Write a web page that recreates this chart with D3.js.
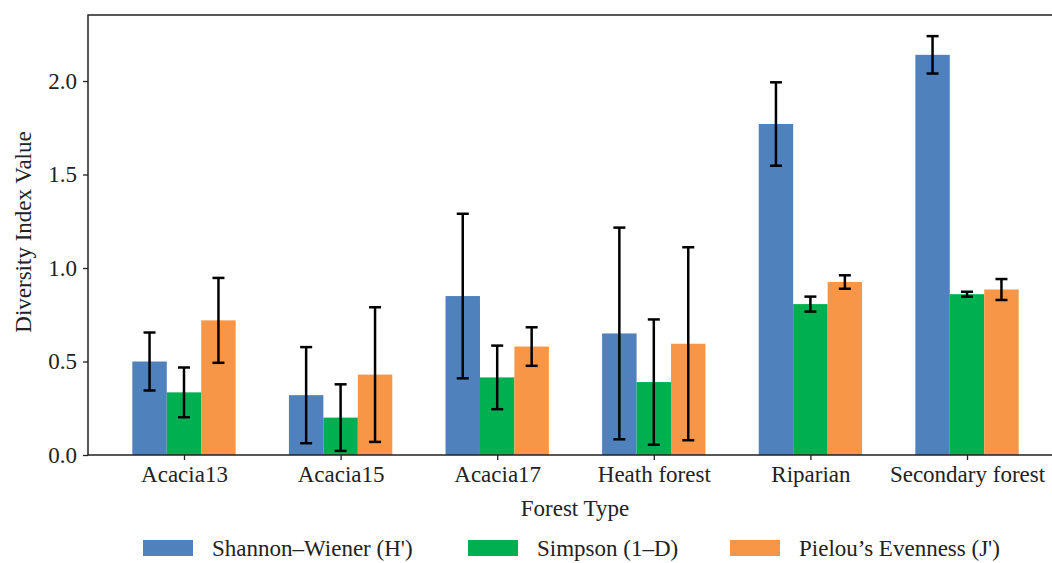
<!DOCTYPE html>
<html>
<head>
<meta charset="utf-8">
<script src="https://cdn.jsdelivr.net/npm/d3@7"></script>
<style>
  body { margin: 0; background: #fff; }
  text { font-family: "Liberation Serif", "DejaVu Serif", serif; fill: #222; }
</style>
</head>
<body>
<div id="chart"></div>
<script>
var categories = ["Acacia13", "Acacia15", "Acacia17", "Heath forest", "Riparian", "Secondary forest"];
var seriesNames = ["Shannon\u2013Wiener (H')", "Simpson (1\u2013D)", "Pielou\u2019s Evenness (J')"];
var seriesColors = ["#4f81bd", "#00b050", "#f79646"];

var shannon = [0.50, 0.32, 0.85, 0.65, 1.77, 2.14];
var shannonErr = [0.155, 0.257, 0.44, 0.566, 0.223, 0.10];
var simpson = [0.335, 0.20, 0.415, 0.39, 0.807, 0.86];
var simpsonErr = [0.133, 0.178, 0.17, 0.335, 0.04, 0.013];
var pielou = [0.72, 0.43, 0.58, 0.595, 0.925, 0.885];
var pielouErr = [0.227, 0.36, 0.103, 0.516, 0.036, 0.056];
var yTicks = [0, 0.5, 1.0, 1.5, 2.0];

var width = 1052,
    height = 563,
    barW = 0.22,
    fontSize = 23;

var series = [shannon, simpson, pielou];
var errors = [shannonErr, simpsonErr, pielouErr];

var svg = d3.select('#chart')
    .append('svg')
    .attr('width', width)
    .attr('height', height);

var x = d3.scaleLinear()
    .domain([-0.613, 5.613])
    .range([88, 1063]);

var y = d3.scaleLinear()
    .domain([0, 2.353])
    .range([455, 15]);

// flatten to one record per bar
var bars = [];
series.forEach(function(vals, j) {
    vals.forEach(function(v, i) {
        bars.push({ i: i, j: j, v: v, e: errors[j][i] });
    });
});

svg.selectAll('rect.bar')
    .data(bars)
    .enter()
    .append('rect')
    .attr('class', 'bar')
    .attr('x', function(d) { return x(d.i + (d.j - 1) * barW - barW / 2); })
    .attr('width', function(d) { return x(barW) - x(0); })
    .attr('y', function(d) { return y(d.v); })
    .attr('height', function(d) { return y(0) - y(d.v); })
    .attr('fill', function(d) { return seriesColors[d.j]; });

// error bars
var eb = svg.selectAll('g.err')
    .data(bars)
    .enter()
    .append('g')
    .attr('class', 'err')
    .attr('stroke', '#000')
    .attr('stroke-width', 2.5);

function cx(d) { return x(d.i + (d.j - 1) * barW); }

eb.append('line')
    .attr('x1', cx).attr('x2', cx)
    .attr('y1', function(d) { return y(d.v - d.e); })
    .attr('y2', function(d) { return y(d.v + d.e); });
eb.append('line')
    .attr('x1', function(d) { return cx(d) - 6; })
    .attr('x2', function(d) { return cx(d) + 6; })
    .attr('y1', function(d) { return y(d.v + d.e); })
    .attr('y2', function(d) { return y(d.v + d.e); });
eb.append('line')
    .attr('x1', function(d) { return cx(d) - 6; })
    .attr('x2', function(d) { return cx(d) + 6; })
    .attr('y1', function(d) { return y(d.v - d.e); })
    .attr('y2', function(d) { return y(d.v - d.e); });

// axes
var xAxis = svg.append('g')
    .attr('transform', 'translate(0,455)')
    .call(d3.axisBottom(x)
        .tickValues(d3.range(categories.length))
        .tickFormat(function(d) { return categories[d]; })
        .tickSize(5)
        .tickPadding(6));

var yAxis = svg.append('g')
    .attr('transform', 'translate(88,0)')
    .call(d3.axisLeft(y)
        .tickValues(yTicks)
        .tickFormat(d3.format('.1f'))
        .tickSize(5)
        .tickPadding(6));

[xAxis, yAxis].forEach(function(g) {
    g.select('.domain').remove();
    g.selectAll('.tick line').attr('stroke', '#222').attr('stroke-width', 1.3);
    g.selectAll('.tick text')
        .attr('font-size', fontSize)
        .attr('fill', '#222');
});

// spines
svg.append('path')
    .attr('d', 'M' + x.range()[1] + ',' + y(2.353) + 'H88V455H' + x.range()[1])
    .attr('fill', 'none')
    .attr('stroke', '#222')
    .attr('stroke-width', 1.5);

// axis titles
svg.append('text')
    .attr('x', 575)
    .attr('y', 516)
    .attr('text-anchor', 'middle')
    .attr('font-size', fontSize)
    .text('Forest Type');

svg.append('text')
    .attr('transform', 'translate(31,232) rotate(-90)')
    .attr('text-anchor', 'middle')
    .attr('font-size', fontSize)
    .text('Diversity Index Value');

// legend
var legendX = [143, 468, 730];
var legend = svg.selectAll('g.legend')
    .data(seriesNames)
    .enter()
    .append('g')
    .attr('class', 'legend')
    .attr('transform', function(d, j) { return 'translate(' + legendX[j] + ',540)'; });

legend.append('rect')
    .attr('width', 50)
    .attr('height', 16)
    .attr('fill', function(d, j) { return seriesColors[j]; });

legend.append('text')
    .attr('x', 69)
    .attr('y', 16)
    .attr('font-size', fontSize)
    .text(function(d) { return d; });
</script>
</body>
</html>
